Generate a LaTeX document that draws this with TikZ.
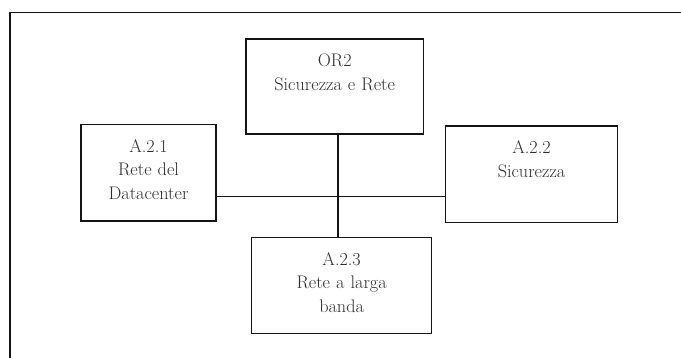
\documentclass[tikz,border=0pt]{standalone}
\usepackage{xcolor}
\definecolor{inkdark}{HTML}{141414}
\definecolor{inkgray}{HTML}{2E2E2E}
\usepackage{tikz}
\usetikzlibrary{positioning}

\begin{document}
\begin{tikzpicture}[x=1pt, y=-1pt,
    font=\fontsize{18.2}{23.3}\selectfont,
    box/.style={draw=inkdark, line width=1.5pt, inner sep=0pt, align=center,
                text=inkgray, text height=28pt},
    link/.style={draw=inkdark, line width=1.5pt},
    frame/.style={draw=inkdark, line width=1.8pt}]
  \useasboundingbox (0,0) rectangle (681,358);
  \clip (0,0) rectangle (681,358);
  \draw[frame] (10,12.5) rectangle (690,372);
  \node[box, text width=177.5pt, text depth=67pt] (or2) at (334.7,86.5) {OR2\\Sicurezza e Rete};
  \node[box, text width=135pt, text depth=68.5pt] (dc) at (148.5,172.7) {A.2.1\\Rete del\\Datacenter};
  \node[box, text width=172pt, text depth=68.5pt] (sec) at (531.5,174.2) {A.2.2\\Sicurezza};
  \node[box, text width=180pt, text depth=68pt] (wan) at (341.6,285.5) {A.2.3\\Rete a larga\\banda};
  \coordinate (hub) at (338,196.7);
  \draw[link] (or2.south -| hub) -- (wan.north -| hub);
  \draw[link] (dc.east |- hub) -- (sec.west |- hub);
\end{tikzpicture}
\end{document}
